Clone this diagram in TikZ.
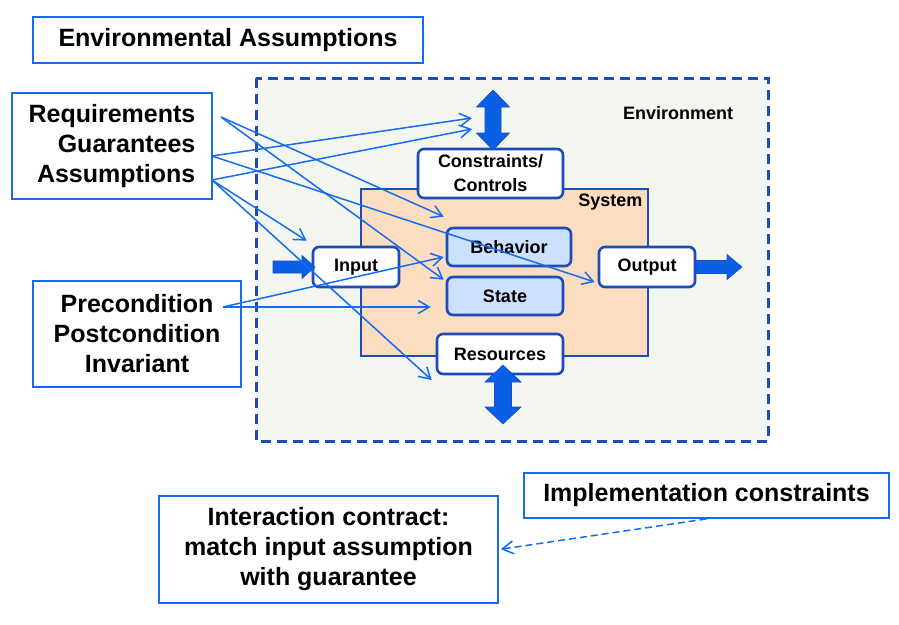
\documentclass[tikz,border=0pt]{standalone}
\usepackage{fontspec}
\setmainfont{Liberation Sans}
\usetikzlibrary{arrows.meta,calc}

\definecolor{envfill}{RGB}{243,246,238}
\definecolor{sysfill}{RGB}{252,221,192}
\definecolor{partfill}{RGB}{204,224,255}
\definecolor{lineblue}{RGB}{22,108,240}
\definecolor{darkblue}{RGB}{28,76,186}
\definecolor{arrowblue}{RGB}{10,96,228}

\tikzset{
  labelbox/.style={draw=lineblue,line width=1.8pt,fill=white,inner sep=0pt,
    font=\fontsize{25}{30}\selectfont\bfseries},
  partbox/.style={draw=darkblue,line width=2.6pt,rounded corners=6pt,fill=white,
    inner sep=0pt,font=\fontsize{18}{24}\selectfont\bfseries},
  link/.style={lineblue,line width=1.5pt,-{Straight Barb[length=11pt,width=13pt]}},
  fatarrow/.style={fill=arrowblue,draw=darkblue,line width=0.6pt,line join=miter},
}

\begin{document}
\begin{tikzpicture}[x=1pt,y=-1pt]
  \useasboundingbox (0,0) rectangle (899,624);
  % environment (dashed frame):
  \draw[fill=envfill,draw=darkblue,line width=3pt,dash pattern=on 10pt off 6pt]
    (256,78) rectangle (768,441);
  \node[font=\fontsize{18}{22}\selectfont\bfseries] (envlabel) at (678,113) {Environment};
  % system box:
  \draw[fill=sysfill,draw=darkblue,line width=2.2pt] (361,189) rectangle (648,356);
  \node[anchor=east,font=\fontsize{18}{22}\selectfont\bfseries] (syslabel) at (646,202) {System};
  % parts of the system:
  \node[partbox,minimum width=145pt,minimum height=49pt,align=center] (ctrl) at (490.5,173.5)
    {Constraints/\\Controls};
  \node[partbox,minimum width=86pt,minimum height=40pt] (input) at (356,267) {Input};
  \node[partbox,minimum width=96pt,minimum height=40pt] (output) at (647,267) {Output};
  \node[partbox,minimum width=126pt,minimum height=40pt] (res) at (500,354) {Resources};
  \node[partbox,fill=partfill,minimum width=124pt,minimum height=38pt] (beh) at (509,247) {Behavior};
  \node[partbox,fill=partfill,minimum width=116pt,minimum height=38pt] (state) at (505,296) {State};
  % fat arrows (controls, resources, input, output):
  \filldraw[fatarrow] (493,90) -- ++(16.5,17) -- ++(-8.5,0) -- ++(0,26) -- ++(8.5,0)
    -- ++(-16.5,17) -- ++(-16.5,-17) -- ++(8.5,0) -- ++(0,-26) -- ++(-8.5,0) -- cycle;
  \filldraw[fatarrow] (503,365) -- ++(18,17) -- ++(-9.5,0) -- ++(0,25) -- ++(9.5,0)
    -- ++(-18,17) -- ++(-18,-17) -- ++(9.5,0) -- ++(0,-25) -- ++(-9.5,0) -- cycle;
  \filldraw[fatarrow] (273,261) -- (302,261) -- (302,255.5) -- (315,267) -- (302,278.5)
    -- (302,273) -- (273,273) -- cycle;
  \filldraw[fatarrow] (696,260.5) -- (727,260.5) -- (727,254.5) -- (742,267) -- (727,279.5)
    -- (727,273.5) -- (696,273.5) -- cycle;
  % contract boxes:
  \node[labelbox,minimum width=390pt,minimum height=46pt] (envass) at (228,40)
    {Environmental Assumptions};
  \node[labelbox,minimum width=200pt,minimum height=106pt,align=right] (rga) at (112,146)
    {Requirements\\Guarantees\\Assumptions};
  \node[labelbox,minimum width=208pt,minimum height=106pt,align=center] (ppi) at (137,334)
    {Precondition\\Postcondition\\Invariant};
  \node[labelbox,minimum width=339pt,minimum height=107pt,align=center] (inter) at (328.5,549.5)
    {Interaction contract:\\match input assumption\\with guarantee};
  \node[labelbox,minimum width=365pt,minimum height=45pt] (impl) at (706.5,495.5)
    {Implementation constraints};
  % start and end points of the links:
  \coordinate (req) at (221,117);
  \coordinate (gua) at (212,156);
  \coordinate (ass) at (212,180);
  \coordinate (pre) at (223,307);
  \coordinate (ctrlhi) at (472,118);
  \coordinate (ctrllo) at (472,129);
  \coordinate (behtop) at ($(beh.north west)+(-2,-10)$);
  \coordinate (behleft) at ($(beh.west)+(-2,10)$);
  \coordinate (statetop) at ($(state.north west)+(-2,4)$);
  \coordinate (stateleft) at ($(state.west)+(-15,11)$);
  \coordinate (inputtop) at ($(input.north west)+(-5,-5)$);
  \coordinate (outleft) at ($(output.west)+(-3,15)$);
  \coordinate (resleft) at ($(res.west)+(-4,26)$);
  % requirements:
  \draw[link] (req) -- (behtop);
  \draw[link] (req) -- (statetop);
  % guarantees:
  \draw[link] (gua) -- (ctrlhi);
  \draw[link] (gua) -- (outleft);
  % assumptions:
  \draw[link] (ass) -- (ctrllo);
  \draw[link] (ass) -- (inputtop);
  \draw[link] (ass) -- (resleft);
  % pre/postcondition, invariant:
  \draw[link] (pre) -- (behleft);
  \draw[link] (pre) -- (stateleft);
  % implementation constraints to interaction contract:
  \draw[link,dash pattern=on 7pt off 4pt,shorten >=2pt] (impl.south) -- (inter.east);
\end{tikzpicture}
\end{document}
